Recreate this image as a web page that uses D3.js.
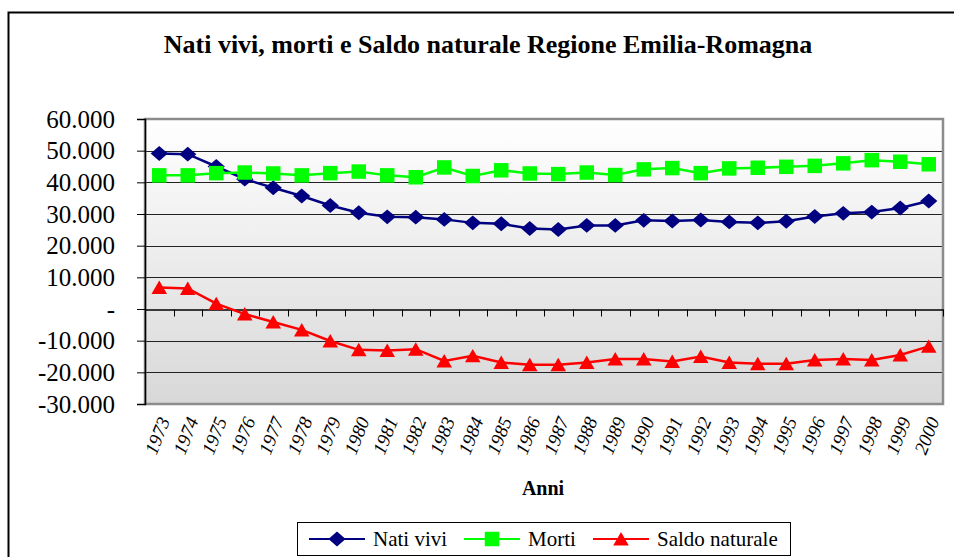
<!DOCTYPE html>
<html lang="it">
  <head>
  <title>Nati vivi, morti e Saldo naturale</title>
    <style>
      body { margin: 0; background: #fff; }
      svg { display: block; font-family: "Liberation Serif", "Times New Roman", serif; }
      .title { font-weight: bold; font-size: 26px; }
      .ylab { font-size: 25px; font-family: "Liberation Serif", serif; }
      .xlab { font-size: 19px; font-style: italic; }
      .leg { font-size: 21px; }
    </style>
  </head>
  <body>
<div id="chart"></div>
    <script src="https://d3js.org/d3.v7.min.js"></script>
    <script>
    var anni = ["1973","1974","1975","1976","1977","1978","1979","1980","1981","1982","1983","1984","1985","1986",
                "1987","1988","1989","1990","1991","1992","1993","1994","1995","1996","1997","1998","1999","2000"];
    var natiVivi = [49100,48900,45000,41000,38300,35700,32700,30400,29100,29000,28300,27200,26900,25400,
                    25100,26400,26400,28000,27800,28100,27500,27200,27700,29200,30200,30600,31900,34100];
    var morti = [42200,42200,42900,43100,42800,42200,42900,43400,42200,41600,44700,42000,43800,42800,
                 42600,43100,42300,44100,44500,42900,44400,44600,44900,45200,46000,47000,46500,45700];
    var saldo = [6800,6500,1700,-1600,-4100,-6600,-10100,-12900,-13100,-12700,-16400,-14800,-16900,-17600,
                 -17600,-16900,-15800,-15800,-16600,-15000,-16900,-17300,-17300,-16100,-15800,-16100,-14500,-11800];
    var yTicks = [60000,50000,40000,30000,20000,10000,0,-10000,-20000,-30000];

    (function(){
    var width = 954, height = 557;
    var pLeft = 145, pRight = 943, pTop = 119, pBottom = 404;

    var svg = d3.select("#chart").append("svg")
        .attr("width", width)
        .attr("height", height);

    // outer frame
    svg.append("rect")
        .attr("x", 8.5).attr("y", 12.5)
        .attr("width", 990).attr("height", 600)
        .attr("fill", "none").attr("stroke", "#000").attr("stroke-width", 2);

    svg.append("text").attr("class", "title")
        .attr("x", 488).attr("y", 53)
        .attr("text-anchor", "middle")
        .text("Nati vivi, morti e Saldo naturale Regione Emilia-Romagna");

    var x = d3.scaleBand().domain(anni).range([pLeft, pRight]);
    var y = d3.scaleLinear().domain([-30000, 60000]).range([pBottom, pTop]);

    var grad = svg.append("defs").append("linearGradient")
        .attr("id", "bg").attr("x1", 0).attr("y1", 0).attr("x2", 0).attr("y2", 1);
    grad.append("stop").attr("offset", 0).attr("stop-color", "#ffffff");
    grad.append("stop").attr("offset", 1).attr("stop-color", "#d8d8d8");

    svg.append("rect")
        .attr("x", pLeft).attr("y", pTop)
        .attr("width", pRight - pLeft).attr("height", pBottom - pTop)
        .attr("fill", "url(#bg)");

    // gridlines
    svg.append("g").selectAll("line")
        .data(yTicks.filter(function(d){ return d !== 60000 && d !== -30000 && d !== 0; }))
        .enter().append("line")
          .attr("x1", pLeft).attr("x2", pRight)
          .attr("y1", function(d){ return Math.round(y(d)) + 0.5; })
          .attr("y2", function(d){ return Math.round(y(d)) + 0.5; })
          .attr("stroke", "#222").attr("stroke-width", 1);

    // plot border
    svg.append("rect")
        .attr("x", pLeft).attr("y", pTop)
        .attr("width", pRight - pLeft).attr("height", pBottom - pTop)
        .attr("fill", "none").attr("stroke", "#8c8c8c").attr("stroke-width", 2.5);

    // y axis
    var yAxis = d3.axisLeft(y).tickValues(yTicks).tickSize(8).tickPadding(22)
        .tickFormat(function(d){ return d === 0 ? "-" : d3.format(",")(d).replace(/,/g, ".").replace("−", "-"); });
    var gy = svg.append("g").attr("transform", "translate(" + pLeft + ",0)").call(yAxis)
        .attr("font-family", null).attr("font-size", null);
    gy.select(".domain").attr("stroke", "#000").attr("stroke-width", 1.5);
    gy.selectAll(".tick line").attr("stroke", "#000");
    gy.selectAll("text").attr("class", "ylab").attr("fill", "#000");

    // zero line with category ticks
    var xAxis = d3.axisBottom(x).tickSize(0).tickFormat("");
    var gz = svg.append("g").attr("transform", "translate(0," + (Math.round(y(0)) + 0.5) + ")").call(xAxis);
    gz.select(".domain").attr("stroke", "#000").attr("stroke-width", 1.5);
    gz.selectAll(".tick").remove();
    gz.selectAll(".cat").data(anni).enter().append("line")
        .attr("x1", function(d, i){ return Math.round(pLeft + (i + 1) * x.step()) + 0.5; })
        .attr("x2", function(d, i){ return Math.round(pLeft + (i + 1) * x.step()) + 0.5; })
        .attr("y1", 0).attr("y2", 7)
        .attr("stroke", "#000");

    // year labels
    svg.append("g").selectAll("text")
        .data(anni).enter().append("text")
          .attr("class", "xlab")
          .attr("font-style", "italic")
          .attr("text-anchor", "end")
          .attr("transform", function(d){ return "translate(" + (x(d) + x.bandwidth() / 2 + 5) + ",418) rotate(-68)"; })
          .attr("dy", "0.35em")
          .text(function(d){ return d; });

    svg.append("text")
        .attr("x", 543).attr("y", 495)
        .attr("text-anchor", "middle")
        .attr("font-weight", "bold").attr("font-size", 20)
        .text("Anni");

    var cx = function(d, i){ return x(anni[i]) + x.bandwidth() / 2; };
    var series = [
      { name: "Nati vivi", values: natiVivi, color: "#000080", symbol: d3.symbolDiamond, size: 64 },
      { name: "Morti", values: morti, color: "#00ff00", symbol: d3.symbolSquare, size: 210 },
      { name: "Saldo naturale", values: saldo, color: "#ff0000", symbol: d3.symbolTriangle, size: 105 }
    ];

    var line = d3.line().x(cx).y(function(d){ return y(d); });

    function markTransform(s, px, py){
      var t = "translate(" + px + "," + (py + (s.symbol === d3.symbolTriangle ? 2 : 0)) + ")";
      if (s.symbol === d3.symbolDiamond) t += " scale(2,1)";
      return t;
    }

    series.forEach(function(s){
      svg.append("path")
          .datum(s.values)
          .attr("fill", "none")
          .attr("stroke", s.color)
          .attr("stroke-width", 2.5)
          .attr("d", line);
      svg.append("g").selectAll("path")
          .data(s.values).enter().append("path")
            .attr("d", d3.symbol().type(s.symbol).size(s.size))
            .attr("fill", s.color)
            .attr("transform", function(d, i){ return markTransform(s, cx(d, i), y(d)); });
    });

    // legend
    var legend = svg.append("g");
    legend.append("rect")
        .attr("x", 297.5).attr("y", 522.5).attr("width", 493).attr("height", 33)
        .attr("fill", "#fff").attr("stroke", "#000");
    var legX = [309, 464, 593];
    series.forEach(function(s, i){
      var g = legend.append("g").attr("transform", "translate(" + legX[i] + ",539)");
      g.append("line").attr("x1", 0).attr("x2", 56).attr("stroke", s.color).attr("stroke-width", 2);
      g.append("path")
          .attr("d", d3.symbol().type(s.symbol).size(s.size))
          .attr("fill", s.color)
          .attr("transform", markTransform(s, 28, 0));
      g.append("text").attr("class", "leg")
          .attr("x", 64).attr("y", 7)
          .text(s.name);
    });
    })();
    </script>
  </body>
</html>
